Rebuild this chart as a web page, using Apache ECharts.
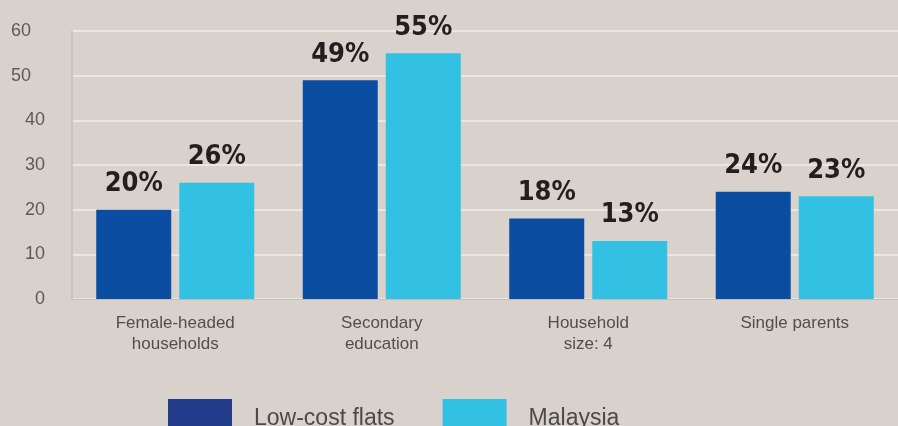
<!DOCTYPE html>
<html>
<head>
<meta charset="utf-8">
<script src="https://cdn.jsdelivr.net/npm/echarts@6/dist/echarts.min.js"></script>
<style>
  html, body { margin: 0; padding: 0; background: #d9d2cc; }
  #chart { width: 898px; height: 426px; }
</style>
</head>
<body>
<div id="chart"></div>
<script>
const categories = ['Female-headed\nhouseholds', 'Secondary\neducation', 'Household\nsize: 4', 'Single parents'];
const lowCostFlats = [20, 49, 18, 24];
const malaysia = [26, 55, 13, 23];
const yTicks = { min: 0, max: 60, interval: 10 };

const chart = echarts.init(document.getElementById('chart'));

// big bold percentage labels above the bars
const valueLabel = {
  show: true,
  position: 'top',
  distance: 12,
  formatter: '{c}%',
  fontFamily: '"DejaVu Sans Condensed", sans-serif',
  fontWeight: 'bold',
  fontSize: 27,
  color: '#231f20'
};

const option = {
  backgroundColor: '#d9d2cc',
  animation: false,
  grid: {
    left: 72,
    right: -6,
    top: 31,
    bottom: 127,
    containLabel: false
  },
  legend: {
    data: [
      { name: 'Low-cost flats', itemStyle: { color: '#233c8b' } },
      { name: 'Malaysia', itemStyle: { color: '#33c1e3' } }
    ],
    left: 163,
    top: 394,
    icon: 'rect',
    itemWidth: 64,
    itemHeight: 40,
    itemGap: 48,
    textStyle: {
      fontFamily: '"Liberation Sans", Arial, sans-serif',
      fontSize: 23,
      color: '#4a4a4a',
      padding: [0, 0, 0, 17]
    }
  },
  xAxis: {
    type: 'category',
    data: categories,
    axisLine: { show: true, lineStyle: { color: '#c4beb8', width: 1 } },
    axisTick: { show: false },
    axisLabel: {
      margin: 14,
      fontFamily: '"Liberation Sans", Arial, sans-serif',
      fontSize: 17,
      lineHeight: 21,
      color: '#4f4f4f'
    }
  },
  yAxis: {
    type: 'value',
    min: yTicks.min,
    max: yTicks.max,
    interval: yTicks.interval,
    axisLine: { show: true, lineStyle: { color: '#c4beb8', width: 1.5 } },
    axisTick: { show: false },
    axisLabel: {
      margin: 27,
      fontFamily: '"Liberation Sans", Arial, sans-serif',
      fontSize: 18,
      color: '#5b5b5b',
      formatter: v => (v >= 50 ? '{s|' + v + '}' : String(v)),
      rich: {
        s: { fontFamily: '"Liberation Sans", Arial, sans-serif', fontSize: 18, color: '#5b5b5b', padding: [0, 14, 0, 0] }
      }
    },
    splitLine: { lineStyle: { color: '#f1edea', width: 1.5 } }
  },
  series: [
    {
      name: 'Low-cost flats',
      type: 'bar',
      data: lowCostFlats,
      barWidth: 75,
      barGap: '10.7%',
      itemStyle: { color: '#0b4da1' },
      label: valueLabel
    },
    {
      name: 'Malaysia',
      type: 'bar',
      data: malaysia,
      barWidth: 75,
      barGap: '10.7%',
      itemStyle: { color: '#33c1e3' },
      label: valueLabel
    }
  ]
};

chart.setOption(option);
</script>
</body>
</html>
